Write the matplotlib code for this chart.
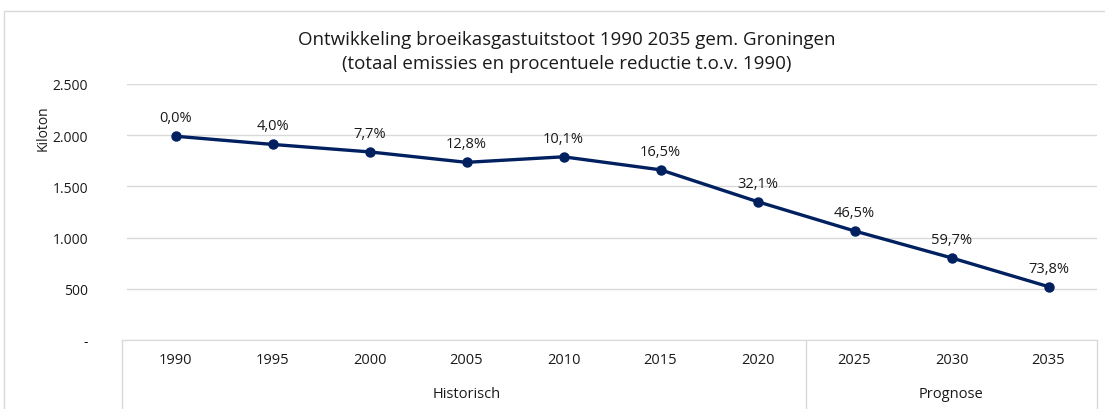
import matplotlib
matplotlib.use("Agg")
from matplotlib import pyplot as plt
from matplotlib.patches import Rectangle
import matplotlib.transforms as mtransforms

years = ['1990', '1995', '2000', '2005', '2010', '2015', '2020', '2025', '2030', '2035']
kiloton = [1990, 1910, 1837, 1735, 1789, 1662, 1351, 1065, 802, 521]
reductie = ['0,0%', '4,0%', '7,7%', '12,8%', '10,1%', '16,5%', '32,1%', '46,5%', '59,7%', '73,8%']
groups = ['Historisch', 'Prognose']
group_sizes = [7, 3]

plt.rcParams['font.family'] = ['Open Sans', 'DejaVu Sans']
navy = '#002060'
grid_col = '#d9d9d9'
txt = '#1a1a1a'

fig = plt.figure(figsize=(11.05, 4.10), dpi=100)
# outer chart border
fig.patches.append(Rectangle((4 / 1105, -0.1), 1.2, (410 - 12) / 410 + 0.1,
                             transform=fig.transFigure, fill=False,
                             edgecolor=grid_col, linewidth=1))

ax = fig.add_axes([127 / 1105, 1 - 341 / 410, 970 / 1105, 256 / 410])
x = list(range(len(years)))
ax.plot(x, kiloton, color=navy, linewidth=2.4, marker='o', markersize=6.5)
for i in x:
    ax.annotate(reductie[i], (i, kiloton[i]), xytext=(0, 8), textcoords='offset points',
                ha='center', va='bottom', fontsize=10.5, color=txt)

ax.set_xlim(-0.5, len(years) - 0.5)
ax.set_ylim(0, 2500)
ax.set_yticks([0, 500, 1000, 1500, 2000, 2500])
ax.set_yticklabels(['-', '500', '1.000', '1.500', '2.000', '2.500'], fontsize=10, color=txt)
ax.tick_params(axis='y', length=0, pad=28)
ax.grid(axis='y', color=grid_col, linewidth=1)
ax.set_axisbelow(True)
for s in ['top', 'right', 'left']:
    ax.spines[s].set_visible(False)
ax.spines['bottom'].set_color(grid_col)
ax.set_xticks(x)
ax.set_xticklabels(years, fontsize=10.5, color=txt)
ax.tick_params(axis='x', length=0, pad=9)
ax.set_ylabel('Kiloton', fontsize=10, color=txt)
ax.yaxis.set_label_coords((51 - 127) / 970, (341 - 128) / 256)

# group separators and labels
trans = mtransforms.blended_transform_factory(ax.transData, ax.transAxes)
bottom = -(410 - 341) / 256
ax.plot([-0.5 - 5 / 97, -0.5 - 5 / 97], [0, bottom], color=grid_col, lw=1, transform=trans, clip_on=False)
ax.plot([-0.5 - 5 / 97, -0.5], [0, 0], color=grid_col, lw=1, transform=trans, clip_on=False)
start = -0.5
for g, n in zip(groups, group_sizes):
    end = start + n
    ax.plot([end, end], [0, bottom], color=grid_col, lw=1, transform=trans, clip_on=False)
    ax.text((start + end) / 2, -(395 - 341) / 256, g, transform=trans, ha='center', va='center',
            fontsize=10.5, color=txt)
    start = end

fig.text(567 / 1105, 1 - 40 / 410, 'Ontwikkeling broeikasgastuitstoot 1990 2035 gem. Groningen',
         ha='center', va='center', fontsize=13.5, color=txt)
fig.text(567 / 1105, 1 - 64 / 410, '(totaal emissies en procentuele reductie t.o.v. 1990)',
         ha='center', va='center', fontsize=13.5, color=txt)

fig.savefig('out.png', dpi=100)
